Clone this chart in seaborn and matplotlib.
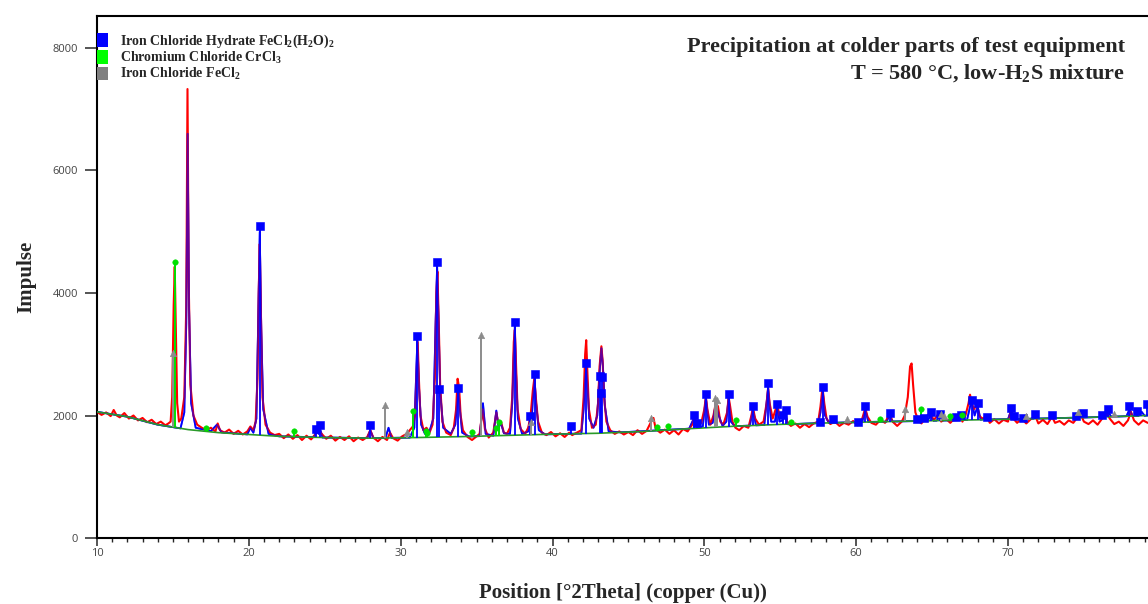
import numpy as np
import matplotlib
matplotlib.use("Agg")
import matplotlib.pyplot as plt
from matplotlib.patches import Patch
from matplotlib.ticker import MultipleLocator
import seaborn as sns

sns.set_theme(style="white")
plt.rcParams["font.family"] = ["Open Sans", "DejaVu Sans"]
plt.rcParams["mathtext.fontset"] = "custom"
plt.rcParams["mathtext.rm"] = "Liberation Serif:bold"
plt.rcParams["mathtext.it"] = "Liberation Serif:bold"
plt.rcParams["mathtext.bf"] = "Liberation Serif:bold"
plt.rcParams["mathtext.default"] = "rm"

# background (fitted baseline), counts
bg_x = [10, 12, 14, 16, 18, 20, 22, 25, 28, 31, 34, 37, 40, 43, 46, 49, 52, 55, 58, 61, 64, 67, 70, 73, 76, 79.2]
bg_y = [2060, 1980, 1850, 1770, 1720, 1690, 1660, 1640, 1630, 1640, 1655, 1675, 1695, 1710, 1740, 1785, 1825,
        1855, 1878, 1895, 1910, 1925, 1940, 1955, 1975, 2000]

obs = [
    (10.0, 2060), (10.3, 2010), (10.6, 2050), (10.9, 1990), (11.1, 2090), (11.3, 2000), (11.5, 1970), (11.8, 2040),
    (12.1, 1950), (12.4, 2000), (12.7, 1920), (13.0, 1960), (13.3, 1890), (13.6, 1930), (13.9, 1860), (14.2, 1900),
    (14.5, 1840), (14.7, 1870), (14.85, 1900), (14.95, 2300), (15.05, 3800), (15.12, 4430), (15.2, 3300),
    (15.28, 2200), (15.4, 1900), (15.55, 1950), (15.75, 2300), (15.88, 3800), (15.96, 7330), (16.04, 4200),
    (16.15, 2500), (16.35, 2000), (16.6, 1850), (16.9, 1800), (17.2, 1760), (17.5, 1800), (17.8, 1740),
    (17.95, 1870), (18.1, 1760), (18.4, 1720), (18.7, 1770), (19.0, 1700), (19.3, 1750), (19.6, 1690),
    (19.9, 1740), (20.1, 1820), (20.3, 1760), (20.45, 1900), (20.57, 2600), (20.65, 4000), (20.72, 4800),
    (20.8, 3600), (20.9, 2300), (21.1, 1850), (21.4, 1720), (21.7, 1680), (22.0, 1700), (22.3, 1630),
    (22.6, 1690), (22.9, 1620), (23.2, 1680), (23.5, 1600), (23.8, 1670), (24.1, 1610), (24.4, 1700),
    (24.6, 1760), (24.8, 1700), (25.1, 1620), (25.4, 1670), (25.7, 1590), (26.0, 1650), (26.3, 1600),
    (26.6, 1660), (26.9, 1580), (27.2, 1640), (27.5, 1600), (27.8, 1650), (28.0, 1760), (28.2, 1640),
    (28.5, 1580), (28.8, 1650), (29.1, 1600), (29.3, 1720), (29.5, 1630), (29.8, 1590), (30.1, 1660),
    (30.4, 1700), (30.6, 1760), (30.8, 1820), (30.95, 2000), (31.05, 2700), (31.12, 3200), (31.2, 2600),
    (31.3, 2000), (31.5, 1760), (31.7, 1800), (31.9, 1720), (32.1, 1850), (32.25, 2600), (32.35, 4000),
    (32.42, 4350), (32.5, 3600), (32.6, 2500), (32.75, 1900), (33.0, 1720), (33.3, 1680), (33.5, 1800),
    (33.65, 2100), (33.75, 2600), (33.85, 2450), (33.95, 2000), (34.1, 1760), (34.4, 1650), (34.7, 1600),
    (35.0, 1660), (35.2, 1700), (35.4, 2100), (35.55, 1780), (35.8, 1640), (36.1, 1720), (36.3, 2050),
    (36.45, 1850), (36.6, 1900), (36.8, 1720), (37.0, 1700), (37.2, 1800), (37.35, 2300), (37.45, 3200),
    (37.52, 3400), (37.6, 2800), (37.7, 2100), (37.9, 1780), (38.2, 1700), (38.4, 1800), (38.55, 1980),
    (38.7, 2400), (38.8, 2600), (38.9, 2300), (39.05, 1900), (39.3, 1720), (39.6, 1680), (39.9, 1730),
    (40.2, 1660), (40.5, 1710), (40.8, 1650), (41.1, 1720), (41.3, 1680), (41.6, 1720), (41.9, 1760),
    (42.05, 2300), (42.15, 3000), (42.22, 3230), (42.3, 2700), (42.4, 2100), (42.6, 1800), (42.85, 1850),
    (43.0, 2200), (43.1, 2800), (43.22, 3130), (43.3, 2900), (43.4, 2300), (43.55, 1900), (43.8, 1760),
    (44.1, 1700), (44.4, 1740), (44.7, 1690), (45.0, 1730), (45.3, 1680), (45.6, 1760), (45.9, 1700),
    (46.2, 1750), (46.5, 1900), (46.65, 1960), (46.8, 1780), (47.1, 1720), (47.4, 1770), (47.7, 1700),
    (48.0, 1760), (48.3, 1690), (48.6, 1780), (48.9, 1740), (49.2, 1850), (49.35, 1990), (49.5, 1850),
    (49.8, 1880), (50.0, 2100), (50.1, 2300), (50.2, 2100), (50.4, 1850), (50.6, 2000), (50.75, 2200),
    (50.9, 2150), (51.05, 1900), (51.25, 1850), (51.5, 2050), (51.6, 2300), (51.7, 2150), (51.85, 1900),
    (52.05, 1800), (52.3, 1760), (52.6, 1830), (52.9, 1800), (53.1, 2000), (53.2, 2130), (53.35, 1950),
    (53.6, 1850), (53.9, 1900), (54.1, 2200), (54.2, 2450), (54.3, 2200), (54.5, 1950), (54.7, 2100),
    (54.8, 2180), (54.95, 2000), (55.2, 2050), (55.3, 2090), (55.45, 1900), (55.7, 1830), (56.0, 1870),
    (56.3, 1800), (56.6, 1860), (56.9, 1810), (57.2, 1870), (57.5, 1900), (57.65, 2150), (57.78, 2460),
    (57.9, 2200), (58.05, 1950), (58.3, 1860), (58.6, 1900), (58.9, 1830), (59.2, 1880), (59.5, 1850),
    (59.8, 1910), (60.1, 1840), (60.4, 1950), (60.6, 2120), (60.75, 1980), (61.0, 1880), (61.3, 1850),
    (61.6, 1930), (61.9, 1880), (62.2, 2030), (62.4, 1900), (62.7, 1830), (63.0, 1900), (63.2, 2000),
    (63.4, 2300), (63.55, 2800), (63.65, 2850), (63.75, 2500), (63.9, 2050), (64.1, 1920), (64.3, 1870),
    (64.6, 1980), (64.9, 2050), (65.1, 1920), (65.4, 2020), (65.6, 1900), (65.9, 1950), (66.2, 1880),
    (66.5, 1960), (66.8, 2000), (67.0, 1900), (67.2, 2000), (67.4, 2200), (67.5, 2340), (67.6, 2200),
    (67.75, 2100), (67.95, 2180), (68.1, 2000), (68.3, 1950), (68.6, 1990), (68.8, 1880), (69.1, 1940),
    (69.4, 1870), (69.7, 1930), (70.0, 1900), (70.2, 2080), (70.35, 1950), (70.6, 1880), (70.9, 1950),
    (71.2, 1870), (71.5, 1940), (71.8, 1990), (72.0, 1870), (72.3, 1930), (72.6, 1860), (72.9, 1980),
    (73.1, 1880), (73.4, 1910), (73.7, 1850), (74.0, 1920), (74.3, 1880), (74.6, 1980), (74.8, 2010),
    (75.0, 1900), (75.3, 1860), (75.6, 1920), (75.9, 1850), (76.2, 1950), (76.5, 2050), (76.7, 1950),
    (77.0, 1860), (77.3, 1900), (77.6, 1830), (77.9, 1920), (78.1, 2060), (78.3, 1920), (78.6, 1850),
    (78.9, 1920), (79.2, 1880),
]
obs_x = [p[0] for p in obs]
obs_y = [p[1] for p in obs]

# calculated profile (blue)
calc = [
    (10.0, 2060), (12.0, 1980), (14.0, 1850), (15.5, 1790), (15.75, 2050), (15.88, 3500), (15.97, 6600),
    (16.06, 3800), (16.2, 2200), (16.5, 1800), (17.5, 1745), (17.9, 1850), (18.2, 1725), (19.9, 1692),
    (20.1, 1800), (20.3, 1720), (20.5, 1950), (20.62, 3600), (20.72, 5000), (20.82, 3400), (20.95, 2100),
    (21.3, 1700), (22.0, 1660), (24.3, 1646), (24.45, 1760), (24.6, 1700), (24.7, 1780), (24.85, 1641),
    (27.8, 1631), (28.0, 1760), (28.2, 1630), (29.0, 1633), (29.2, 1800), (29.4, 1635), (30.6, 1639),
    (30.9, 1800), (31.0, 2500), (31.1, 3250), (31.2, 2500), (31.35, 1850), (31.6, 1700), (31.72, 1770),
    (31.85, 1700), (32.15, 1950), (32.3, 3500), (32.4, 4450), (32.5, 3500), (32.6, 2400), (32.8, 1800),
    (33.3, 1700), (33.6, 1850), (33.72, 2200), (33.8, 2450), (33.9, 2100), (34.05, 1720), (34.5, 1658),
    (35.2, 1663), (35.42, 2200), (35.6, 1700), (36.1, 1670), (36.3, 2080), (36.45, 1800), (36.6, 1880),
    (36.8, 1710), (37.2, 1700), (37.35, 2200), (37.45, 3000), (37.52, 3450), (37.6, 2700), (37.72, 1950),
    (38.0, 1700), (38.4, 1740), (38.52, 1950), (38.62, 1900), (38.72, 2300), (38.82, 2600), (38.92, 2200),
    (39.1, 1760), (39.5, 1692), (41.9, 1705), (42.05, 2100), (42.15, 2600), (42.22, 2800), (42.3, 2500),
    (42.42, 1950), (42.7, 1800), (42.95, 2000), (43.1, 2700), (43.22, 3100), (43.32, 2800), (43.45, 2150),
    (43.7, 1740), (44.5, 1725), (49.0, 1785), (49.3, 1950), (49.5, 1795), (49.9, 1820), (50.1, 2300),
    (50.3, 1850), (50.55, 1880), (50.75, 2200), (50.95, 2000), (51.2, 1830), (51.45, 1900), (51.6, 2300),
    (51.75, 1900), (52.0, 1825), (53.0, 1835), (53.2, 2100), (53.4, 1840), (53.95, 1845), (54.2, 2450),
    (54.4, 1900), (54.65, 1900), (54.8, 2150), (54.95, 1900), (55.15, 1920), (55.3, 2050), (55.5, 1857),
    (57.5, 1875), (57.65, 2050), (57.8, 2400), (57.95, 2000), (58.2, 1880), (60.4, 1892), (60.6, 2100),
    (60.8, 1895), (62.0, 1900), (62.2, 2000), (62.4, 1902), (64.7, 1912), (64.9, 2000), (65.1, 1915),
    (65.3, 1916), (65.5, 1980), (65.7, 1918), (67.3, 1927), (67.6, 2250), (67.8, 2000), (68.0, 2150),
    (68.2, 1932), (68.6, 1950), (68.8, 1935), (70.0, 1940), (70.2, 2080), (70.4, 1942), (71.7, 1948),
    (71.85, 1990), (72.0, 1950), (74.5, 1965), (74.7, 2000), (74.9, 1966), (76.4, 1978), (76.6, 2060),
    (76.8, 1980), (77.8, 1988), (78.0, 2100), (78.2, 1990), (78.6, 1993), (78.8, 2060), (79.0, 1995),
    (79.2, 2000),
]
calc_x = [p[0] for p in calc]
calc_y = [p[1] for p in calc]

# reference peak markers
hyd_pos = [20.72, 24.45, 24.7, 28.0, 31.1, 32.4, 32.5, 33.8, 37.52, 38.5, 38.82, 41.2, 42.2, 43.15, 43.22,
           43.28, 49.3, 49.5, 50.1, 51.6, 53.2, 54.2, 54.8, 55.15, 55.35, 57.65, 57.8, 58.5, 60.1, 60.6,
           62.2, 64.0, 64.5, 64.9, 65.5, 66.6, 66.9, 67.6, 68.0, 68.6, 70.2, 70.4, 71.0, 71.8, 72.9, 74.5,
           74.95, 76.2, 76.6, 78.0, 78.5, 79.15]
hyd_int = [5100, 1780, 1840, 1850, 3300, 4510, 2430, 2450, 3530, 1990, 2680, 1830, 2860, 2650, 2360,
           2630, 2010, 1880, 2350, 2350, 2160, 2530, 2190, 2010, 2090, 1900, 2470, 1945, 1900, 2160,
           2040, 1940, 1960, 2060, 2020, 1980, 2010, 2250, 2200, 1980, 2120, 1990, 1960, 2020, 2010, 1990,
           2040, 2010, 2110, 2160, 2070, 2190]

cr_pos = [15.12, 17.2, 23.0, 30.8, 31.7, 31.75, 34.7, 36.25, 36.45, 46.9, 47.6, 52.1, 55.7, 61.6, 64.3,
          66.2, 67.0]
cr_int = [4500, 1800, 1750, 2070, 1750, 1720, 1730, 1800, 1900, 1810, 1830, 1930, 1900, 1945, 2100,
          1990, 2010]

fe_pos = [15.0, 29.0, 30.4, 35.3, 38.6, 46.5, 50.7, 50.85, 59.4, 63.2, 65.6, 65.8, 71.2, 74.6, 77.0]
fe_int = [3020, 2170, 1730, 3315, 1900, 1960, 2280, 2260, 1940, 2110, 2020, 2000, 1990, 2060, 2020]

blue = "#0000ff"
green = "#00e000"
gray = "#8c8c8c"
serif = "Liberation Serif"

fig = plt.figure(figsize=(11.48, 6.04), dpi=100)
ax = fig.add_axes([97 / 1148, 1 - 538 / 604, 1 - 97 / 1148, 522 / 604])

sns.lineplot(x=calc_x, y=calc_y, ax=ax, color=blue, linewidth=1.3, estimator=None, zorder=2)
sns.lineplot(x=obs_x, y=obs_y, ax=ax, color="#ff0000", linewidth=1.5, estimator=None, zorder=3)
# calculated profile again on top, translucent, so peaks look blue/purple as in the scan
sns.lineplot(x=calc_x, y=calc_y, ax=ax, color=blue, linewidth=1.3, alpha=0.6, estimator=None, zorder=3.5)
sns.lineplot(x=bg_x, y=bg_y, ax=ax, color="#2a9a2a", linewidth=1.2, estimator=None, zorder=4)

# sticks from the background up to each marker
for pos, inten, col, lw in [(hyd_pos, hyd_int, blue, 1.3), (cr_pos, cr_int, green, 1.4),
                            (fe_pos, fe_int, gray, 1.4)]:
    ax.vlines(pos, np.interp(pos, bg_x, bg_y), inten, color=col, linewidth=lw, zorder=4)

sns.scatterplot(x=hyd_pos, y=hyd_int, ax=ax, marker="s", s=26, color=blue, edgecolor=blue, zorder=5)
sns.scatterplot(x=cr_pos, y=cr_int, ax=ax, marker="o", s=16, color=green, edgecolor=green, zorder=5)
sns.scatterplot(x=fe_pos, y=fe_int, ax=ax, marker="^", s=22, color=gray, edgecolor=gray, zorder=5)

ax.set_xlim(10, 10 + 1051 / (911 / 60))
ax.set_ylim(0, 522 / 490 * 8000)
ax.set_yticks([0, 2000, 4000, 6000, 8000])
ax.xaxis.set_major_locator(MultipleLocator(10))
ax.xaxis.set_minor_locator(MultipleLocator(1))
ax.tick_params(axis="x", which="major", direction="out", length=6, width=1.1, pad=1.5,
               labelsize=8, labelcolor="#444444", bottom=True)
ax.tick_params(axis="x", which="minor", direction="out", length=2.8, width=1.0, bottom=True)
ax.tick_params(axis="y", which="major", direction="out", length=8.5, width=1.1, pad=5,
               labelsize=8, labelcolor="#444444", left=True)
for side in ["left", "bottom", "top"]:
    ax.spines[side].set_color("black")
    ax.spines[side].set_linewidth(1.5)
ax.spines["right"].set_visible(False)
ax.grid(False)

ax.set_xlabel("Position [°2Theta] (copper (Cu))", fontsize=15, fontweight="bold", family=serif)
ax.xaxis.set_label_coords(0.5, -0.086)
ax.set_ylabel("Impulse", fontsize=15, fontweight="bold", family=serif)
ax.yaxis.set_label_coords(-0.058, 0.5)

ax.text(0.978, 0.96, "Precipitation at colder parts of test equipment\nT = 580 °C, low-H$_2$S mixture",
        transform=ax.transAxes, ha="right", va="top", multialignment="right", fontsize=16,
        fontweight="bold", family=serif, linespacing=1.3)

handles = [Patch(facecolor=blue, edgecolor="none"), Patch(facecolor="#00ff00", edgecolor="none"),
           Patch(facecolor="#808080", edgecolor="none")]
labels = ["Iron Chloride Hydrate FeCl$_2$(H$_2$O)$_2$", "Chromium Chloride CrCl$_3$",
          "Iron Chloride FeCl$_2$"]
ax.legend(handles, labels, loc="upper left", bbox_to_anchor=(0, 0.968), frameon=False, borderpad=0,
          borderaxespad=0, handlelength=0.8, handleheight=1.15, handletextpad=0.85, labelspacing=0.0,
          prop={"family": serif, "weight": "bold", "size": 10})

fig.savefig("out.png", dpi=100)
